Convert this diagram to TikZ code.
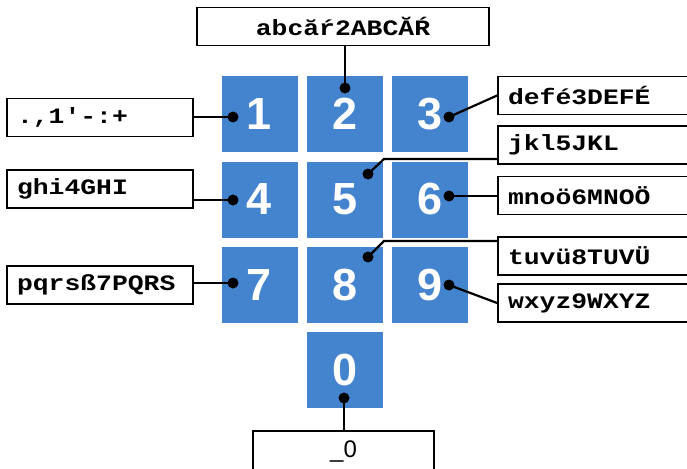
\documentclass[tikz,border=0pt]{standalone}
\usepackage{fontspec}
\newfontfamily\labfont{Liberation Mono}[FakeStretch=1.2]
\newfontfamily\keyfont{Liberation Sans}
\definecolor{keyblue}{RGB}{68,132,206}
\tikzset{
  keybox/.style={fill=keyblue, minimum width=76pt, minimum height=76pt, inner sep=0pt,
    text=white, font=\keyfont\bfseries\fontsize{45}{45}\selectfont},
  lbox/.style={draw, line width=1.8pt, minimum height=38pt, inner xsep=10pt, inner ysep=0pt,
    align=left, font=\labfont\bfseries\fontsize{22}{24}\selectfont},
  conn/.style={line width=2.2pt},
  dotp/.style={circle, fill=black, inner sep=0pt, minimum size=11pt}
}
\begin{document}
\begin{tikzpicture}[x=1pt,y=-1pt]
\clip (0,0) rectangle (687,468);
\fill[white] (0,0) rectangle (687,468);
% keys
\node[keybox] (k1) at (259.5,114) {1};
\node[keybox] (k2) at (345,114) {2};
\node[keybox] (k3) at (430,114) {3};
\node[keybox] (k4) at (259.5,199.5) {4};
\node[keybox] (k5) at (345,199.5) {5};
\node[keybox] (k6) at (430,199.5) {6};
\node[keybox] (k7) at (259.5,285) {7};
\node[keybox] (k8) at (345,285) {8};
\node[keybox] (k9) at (430,285) {9};
\node[keybox] (k0) at (345,370) {0};
% dots
\node[dotp] (d1) at (233,117) {};
\node[dotp] (d2) at (345,88) {};
\node[dotp] (d3) at (449,117) {};
\node[dotp] (d4) at (233,200) {};
\node[dotp] (d5) at (368,174) {};
\node[dotp] (d6) at (449,196) {};
\node[dotp] (d7) at (233,283) {};
\node[dotp] (d8) at (368,257) {};
\node[dotp] (d9) at (449,285) {};
\node[dotp] (d0) at (344,398) {};
% label boxes
\node[lbox, minimum width=292pt, text width=272pt, align=center] (b2) at (343,26.5) {abcăŕ2ABCĂŔ};
\node[lbox, minimum width=186pt, text width=166pt] (b1) at (100,117.5) {.,1'-:+};
\node[lbox, minimum width=186pt, text width=166pt] (b4) at (100,189) {ghi4GHI};
\node[lbox, minimum width=186pt, text width=166pt] (b7) at (100,285) {pqrsß7PQRS};
\node[lbox, minimum width=210pt, text width=190pt] (b3) at (603,95.5) {defé3DEFÉ};
\node[lbox, minimum width=210pt, text width=190pt] (b5) at (603,145) {jkl5JKL};
\node[lbox, minimum width=210pt, text width=190pt] (b6) at (603,195.5) {mnoö6MNOÖ};
\node[lbox, minimum width=210pt, text width=190pt] (b8) at (603,256) {tuvü8TUVÜ};
\node[lbox, minimum width=210pt, text width=190pt] (b9) at (603,303) {wxyz9WXYZ};
\node[lbox, minimum width=181pt, minimum height=40pt, text width=161pt, align=center,
  font=\keyfont\fontsize{24}{24}\selectfont] (b0) at (343.5,451) {\_0};
% bends
\coordinate (c5) at (384,159);
\coordinate (c8) at (384,241);
% connectors
\draw[conn] (b2.south -| d2) -- (d2.center);
\draw[conn] (d1.center) -- (d1 -| b1.east);
\draw[conn] (d4.center) -- (d4 -| b4.east);
\draw[conn] (d7.center) -- (d7 -| b7.east);
\draw[conn] (d3.center) -- (b3.west);
\draw[conn] (d6.center) -- (d6 -| b6.west);
\draw[conn] (d9.center) -- (b9.west);
\draw[conn] (d5.center) -- (c5) -- (c5 -| b5.west);
\draw[conn] (d8.center) -- (c8) -- (c8 -| b8.west);
\draw[conn] (d0.center) -- (d0 |- b0.north);
\end{tikzpicture}
\end{document}
